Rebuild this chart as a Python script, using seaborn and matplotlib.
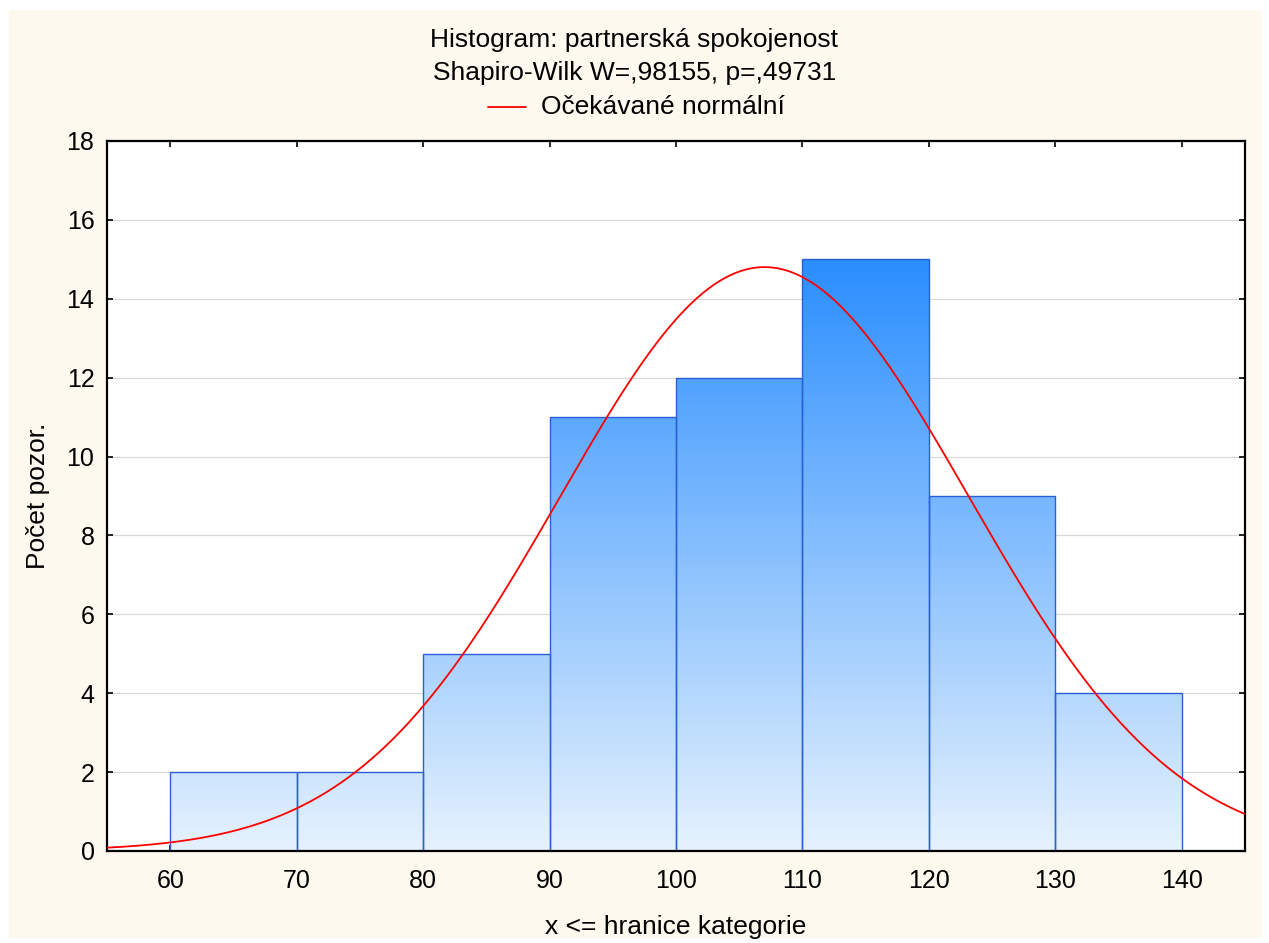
import numpy as np
import pandas as pd
import matplotlib
matplotlib.use("Agg")
import matplotlib.pyplot as plt
from matplotlib.colors import LinearSegmentedColormap
from matplotlib.patches import Rectangle
import seaborn as sns

# Histogram data: upper class limits and counts
bin_edges = [60, 70, 80, 90, 100, 110, 120, 130, 140]
counts = [2, 2, 5, 11, 12, 15, 9, 4]

# Expected normal curve parameters
mean_val = 107.0
sd_val = 16.17
n_obs = sum(counts)
bin_width = 10

x_ticks = [60, 70, 80, 90, 100, 110, 120, 130, 140]
y_ticks = [0, 2, 4, 6, 8, 10, 12, 14, 16, 18]

title_lines = ["Histogram: partnerská spokojenost", "Shapiro-Wilk W=,98155, p=,49731"]
legend_label = "Očekávané normální"
x_label = "x <= hranice kategorie"
y_label = "Počet pozor."

sns.set_style("white")
plt.rcParams["font.family"] = ["Liberation Sans", "DejaVu Sans"]
plt.rcParams["text.color"] = "black"
plt.rcParams["axes.labelcolor"] = "black"

TXT = 19
TICK = 18

W, H = 1269, 943
fig = plt.figure(figsize=(W / 100, H / 100), dpi=100)
fig.patch.set_facecolor("white")
# cream page background
fig.patches.append(Rectangle((9 / W, 5 / H), (1262 - 9) / W, (933 - 5) / H,
                             transform=fig.transFigure, facecolor="#FDF9EE",
                             edgecolor="none", zorder=-10))

ax = fig.add_axes([107 / W, 1 - 851 / H, (1245 - 107) / W, (851 - 141) / H])
ax.set_facecolor("white")

centers = [(a + b) / 2 for a, b in zip(bin_edges[:-1], bin_edges[1:])]
df = pd.DataFrame({"x": centers, "n": counts})
sns.histplot(data=df, x="x", weights="n", bins=bin_edges, ax=ax,
             stat="count", color="#8CC4FB", edgecolor="#2A5FD6",
             linewidth=1.0, alpha=1.0, zorder=2)

# vertical gradient fill clipped to each bar
cmap = LinearSegmentedColormap.from_list("bars", ["#E6F2FD", "#2A8EFF"])
grad = np.linspace(0, 1, 256).reshape(-1, 1)
ymax_bar = max(counts)
for p in ax.patches:
    p.set_facecolor("none")
    im = ax.imshow(grad, cmap=cmap, origin="lower", aspect="auto",
                   extent=[bin_edges[0], bin_edges[-1], 0, ymax_bar],
                   zorder=1.5, interpolation="bilinear")
    im.set_clip_path(p)

# expected normal frequency curve
xs = np.linspace(55, 145, 600)
ys = n_obs * bin_width / (sd_val * np.sqrt(2 * np.pi)) * np.exp(-0.5 * ((xs - mean_val) / sd_val) ** 2)
sns.lineplot(x=xs, y=ys, ax=ax, color="#FF0000", linewidth=1.3, zorder=3)

ax.set_xlim(55, 145)
ax.set_ylim(0, 18)
ax.set_xticks(x_ticks)
ax.set_yticks(y_ticks)
ax.yaxis.grid(True, color="#D8D8D8", linewidth=0.9, zorder=0)
ax.xaxis.grid(False)
ax.set_axisbelow(True)
for s in ax.spines.values():
    s.set_visible(True)
    s.set_color("black")
    s.set_linewidth(1.6)
ax.tick_params(axis="both", which="both", direction="in", length=4, width=1.2,
               colors="black", labelsize=TICK, top=True, right=True,
               bottom=True, left=True, labelcolor="black")
ax.tick_params(axis="x", pad=13)
ax.tick_params(axis="y", pad=9)
ax.set_xlabel(x_label, fontsize=TXT, labelpad=16)
ax.set_ylabel(y_label, fontsize=TXT, labelpad=12)

cx = 0.5
fig.text(cx, 1 - 40 / H, title_lines[0], ha="center", va="center", fontsize=TXT)
fig.text(cx, 1 - 73 / H, title_lines[1], ha="center", va="center", fontsize=TXT)
fig.add_artist(plt.Line2D([488 / W, 526 / W], [1 - 107 / H, 1 - 107 / H],
                          color="#FF0000", linewidth=1.3, transform=fig.transFigure))
fig.text(541 / W, 1 - 107 / H, legend_label, ha="left", va="center", fontsize=TXT)

fig.savefig("out.png", dpi=100)
